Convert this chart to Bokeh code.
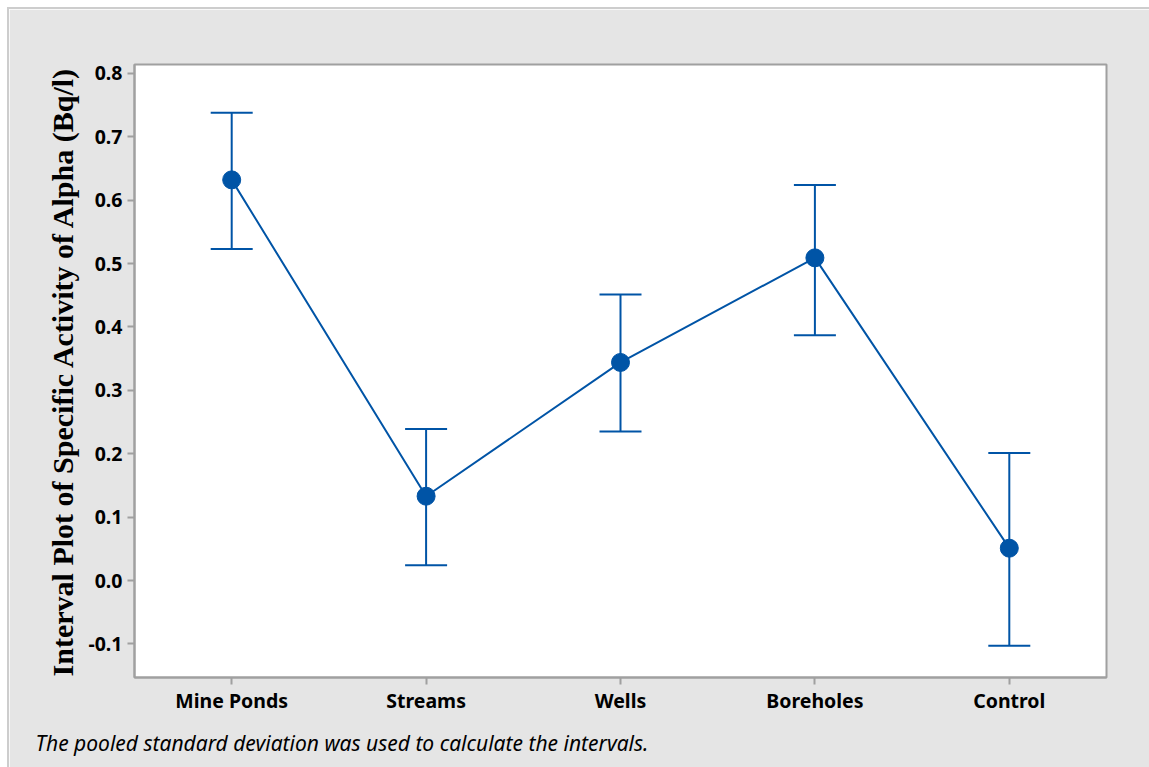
from bokeh.plotting import figure
from bokeh.models import ColumnDataSource, Whisker, TeeHead, Title, Range1d, FixedTicker
from bokeh.embed import file_html
from bokeh.resources import INLINE

categories = ["Mine Ponds", "Streams", "Wells", "Boreholes", "Control"]
means = [0.632, 0.133, 0.344, 0.509, 0.051]
upper = [0.738, 0.239, 0.451, 0.624, 0.201]
lower = [0.523, 0.024, 0.235, 0.387, -0.103]
y_ticks = [-0.1, 0.0, 0.1, 0.2, 0.3, 0.4, 0.5, 0.6, 0.7, 0.8]

BLUE = "#0054A6"
GRAY = "#A0A0A0"
BG = "#E5E5E5"

xs = list(range(len(categories)))
src = ColumnDataSource(dict(x=xs, mean=means, upper=upper, lower=lower))

p = figure(width=1142, height=760, output_backend="svg", toolbar_location=None,
           x_range=Range1d(-0.5, 4.5), y_range=Range1d(-0.153, 0.814),
           min_border_left=125, min_border_right=45, min_border_top=55, min_border_bottom=92)
p.margin = (7, 0, 0, 7)
p.styles = {"border-top": "2px solid #CDCDCD", "border-left": "2px solid #CDCDCD"}
p.background_fill_color = "white"
p.border_fill_color = BG
p.outline_line_color = GRAY
p.outline_line_width = 2
p.grid.visible = False

p.line("x", "mean", source=src, line_color=BLUE, line_width=2)
w = Whisker(base="x", upper="upper", lower="lower", source=src, dimension="height",
            line_color=BLUE, line_width=2,
            upper_head=TeeHead(size=42, line_color=BLUE, line_width=2),
            lower_head=TeeHead(size=42, line_color=BLUE, line_width=2))
p.add_layout(w)
p.scatter("x", "mean", source=src, size=18, fill_color=BLUE, line_color=BLUE)

# axes
p.xaxis.ticker = FixedTicker(ticks=xs)
p.xaxis.major_label_overrides = {i: c for i, c in enumerate(categories)}
p.yaxis.ticker = FixedTicker(ticks=y_ticks)
p.yaxis.major_label_overrides = {t: f"{t:.1f}" for t in y_ticks}
for ax in (p.xaxis[0], p.yaxis[0]):
    ax.axis_line_color = GRAY
    ax.axis_line_width = 2
    ax.major_tick_line_color = GRAY
    ax.major_tick_line_width = 2
    ax.major_tick_out = 7
    ax.major_tick_in = 0
    ax.minor_tick_line_color = None
    ax.major_label_text_color = "black"
    ax.major_label_text_font = "Noto Sans"
    ax.major_label_text_font_style = "bold"
    ax.major_label_text_font_size = "19.5px"
p.xaxis.major_label_standoff = 2
p.yaxis.major_label_standoff = 5

p.yaxis.axis_label = "Interval Plot of Specific Activity of Alpha (Bq/l)"
p.yaxis.axis_label_text_font = "Liberation Serif"
p.yaxis.axis_label_text_font_style = "bold"
p.yaxis.axis_label_text_font_size = "30px"
p.yaxis.axis_label_text_color = "black"
p.yaxis.axis_label_standoff = 6

note = Title(text="The pooled standard deviation was used to calculate the intervals.",
             align="left", offset=-99, standoff=20,
             text_font="Noto Sans", text_font_style="italic", text_font_size="21px",
             text_color="black")
p.add_layout(note, "below")

open("out.html", "w").write(file_html(p, INLINE))
